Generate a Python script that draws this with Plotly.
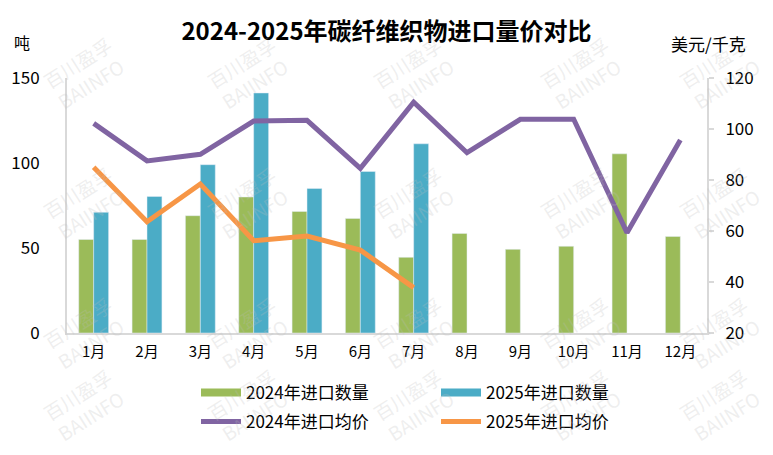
import plotly.graph_objects as go

months = ["1月", "2月", "3月", "4月", "5月", "6月", "7月", "8月", "9月", "10月", "11月", "12月"]
qty_2024 = [55, 55, 69, 80, 71.5, 67.4, 44.5, 58.6, 49.2, 51, 105.4, 56.8]
qty_2025 = [71, 80.3, 99, 141.2, 85, 95, 111.3, None, None, None, None, None]
price_2024 = [102.2, 87.5, 90.1, 103.1, 103.4, 84.6, 110.5, 90.7, 103.8, 103.8, 59.3, 95.7]
price_2025 = [85, 63.6, 78.4, 56.2, 58, 52.5, 37.8]

GREEN = "#9BBB59"
BLUE = "#4BACC6"
PURPLE = "#8064A2"
ORANGE = "#F79646"
AXIS = "#D9D9D9"
FONT = "Noto Sans CJK SC"

W, H = 773, 455
ML, MR, MT, MB = 67, 66, 78, 122
PW, PH = W - ML - MR, H - MT - MB


def px(x):
    return (x - ML) / PW


def py(y):
    return (H - MB - y) / PH


fig = go.Figure()
fig.add_trace(go.Bar(x=months, y=qty_2024, marker_color=GREEN, name="2024年进口数量",
                     showlegend=False, yaxis="y"))
fig.add_trace(go.Bar(x=months, y=qty_2025, marker_color=BLUE, name="2025年进口数量",
                     showlegend=False, yaxis="y"))
fig.add_trace(go.Scatter(x=months, y=price_2024, mode="lines", name="2024年进口均价",
                         line=dict(color=PURPLE, width=5), yaxis="y2", legend="legend2"))
fig.add_trace(go.Scatter(x=months[:len(price_2025)], y=price_2025, mode="lines", name="2025年进口均价",
                         line=dict(color=ORANGE, width=5), yaxis="y2", legend="legend2"))
# legend swatches for the bar series
fig.add_trace(go.Scatter(x=[None], y=[None], mode="lines", name="2024年进口数量",
                         line=dict(color=GREEN, width=8), legend="legend"))
fig.add_trace(go.Scatter(x=[None], y=[None], mode="lines", name="2025年进口数量",
                         line=dict(color=BLUE, width=8), legend="legend"))

anns = []
for yy in [73, 203, 333, 405]:
    for xx in [84, 248, 414, 581, 720]:
        anns.append(dict(text="百川盈孚<br>BAIINFO", x=px(xx), y=py(yy), xref="paper", yref="paper",
                         xanchor="center", yanchor="middle",
                         showarrow=False, textangle=-32,
                         font=dict(family=FONT, size=19, color="rgba(190,190,190,0.25)")))
anns.append(dict(text="吨", x=px(22), y=py(42), xref="paper", yref="paper", showarrow=False,
                 xanchor="center", yanchor="middle",
                 font=dict(family=FONT, size=16, color="#000000")))
anns.append(dict(text="美元/千克", x=px(708), y=py(43), xref="paper", yref="paper", showarrow=False,
                 xanchor="center", yanchor="middle",
                 font=dict(family=FONT, size=17, color="#000000")))

leg_common = dict(orientation="h", xref="container", yref="container", xanchor="left", yanchor="middle",
                  entrywidth=185, entrywidthmode="pixels", itemwidth=40, traceorder="normal",
                  font=dict(family=FONT, size=17, color="#000000"), bgcolor="rgba(0,0,0,0)")

fig.update_layout(
    width=W, height=H,
    margin=dict(l=ML, r=MR, t=MT, b=MB),
    paper_bgcolor="white", plot_bgcolor="white",
    barmode="group", bargap=0.44, bargroupgap=0,
    font=dict(family=FONT, color="#000000"),
    title=dict(text="<b>2024-2025年碳纤维织物进口量价对比</b>", x=0.5, xanchor="center",
               y=1 - 32 / H, yanchor="middle", font=dict(family=FONT, size=24, color="#000000")),
    xaxis=dict(showline=True, linecolor=AXIS, linewidth=2, showgrid=False, ticks="",
               tickfont=dict(family=FONT, size=15, color="#000000"), ticklabelstandoff=4),
    yaxis=dict(range=[0, 150], dtick=50, showline=True, linecolor=AXIS, linewidth=2, showgrid=False,
               zeroline=False, ticks="", ticklabelstandoff=22,
               tickfont=dict(family=FONT, size=17, color="#000000")),
    yaxis2=dict(range=[20, 120], dtick=20, overlaying="y", side="right", showline=True, linecolor=AXIS,
                linewidth=2, showgrid=False, zeroline=False, ticks="outside", ticklen=5, tickcolor=AXIS,
                tickwidth=2, ticklabelstandoff=8,
                tickfont=dict(family=FONT, size=17, color="#000000")),
    legend=dict(x=196 / W, y=1 - 393 / H, **leg_common),
    legend2=dict(x=196 / W, y=1 - 422 / H, **leg_common),
    annotations=anns,
)

fig.write_html("out.html", config={"displayModeBar": False},
               post_script="document.body.style.margin='0';document.body.style.overflow='hidden';")
